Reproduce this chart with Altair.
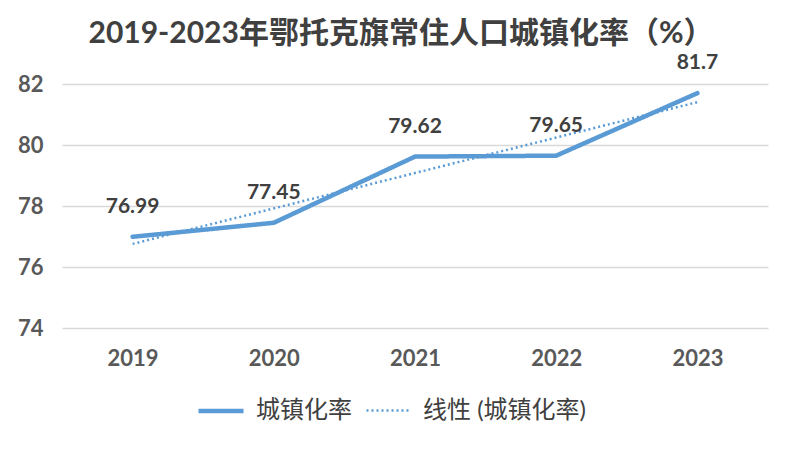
import altair as alt
import pandas as pd

years = [2019, 2020, 2021, 2022, 2023]
values = [76.99, 77.45, 79.62, 79.65, 81.7]
labels = ["76.99", "77.45", "79.62", "79.65", "81.7"]
series_names = ["城镇化率", "线性 (城镇化率)"]
y_ticks = [74, 76, 78, 80, 82]
title_text = "2019-2023年鄂托克旗常住人口城镇化率（%）"

df = pd.DataFrame({"year": years, "value": values, "label": labels})

BLUE = "#5B9BD5"
FONT = "Lato, Noto Sans CJK SC, sans-serif"

x_enc = alt.X("year:Q", scale=alt.Scale(domain=[2018.5, 2023.5], nice=False, zero=False),
              axis=alt.Axis(values=years, format="d", title=None, grid=False, domain=False,
                            ticks=False, labelPadding=20, labelFontSize=22,
                            labelFontWeight="bold", labelColor="#595959", labelFont=FONT))
y_enc = alt.Y("value:Q", scale=alt.Scale(domain=[74, 82], nice=False, zero=False),
              axis=alt.Axis(values=y_ticks, title=None, domain=False, ticks=False,
                            labelPadding=19, labelFontSize=22, labelFontWeight="bold",
                            labelColor="#595959", labelFont=FONT,
                            gridColor="#D9D9D9", gridWidth=1.5))

color_scale = alt.Scale(domain=series_names, range=[BLUE, BLUE])
dash_scale = alt.Scale(domain=series_names, range=[[1, 0], [2, 3]])
width_scale = alt.Scale(domain=series_names, range=[4.5, 2.5])
legend = alt.Legend(title=None, orient="none", legendX=134, legendY=302, direction="horizontal",
                    symbolType="stroke", symbolSize=2025, labelFontSize=24, labelFont=FONT,
                    labelColor="#404040", columnPadding=9, labelOffset=10, labelLimit=400,
                    symbolStrokeColor=BLUE)

base = alt.Chart(df)

line = base.transform_calculate(series="'城镇化率'").mark_line(strokeCap="round").encode(
    x=x_enc, y=y_enc,
    color=alt.Color("series:N", scale=color_scale, legend=legend),
    strokeDash=alt.StrokeDash("series:N", scale=dash_scale, legend=legend),
    strokeWidth=alt.StrokeWidth("series:N", scale=width_scale, legend=legend),
)

trend = base.transform_regression("year", "value", method="linear", extent=[2019, 2023]).transform_calculate(
    series="'线性 (城镇化率)'").mark_line().encode(
    x=x_enc, y=y_enc,
    color=alt.Color("series:N", scale=color_scale, legend=legend),
    strokeDash=alt.StrokeDash("series:N", scale=dash_scale, legend=legend),
    strokeWidth=alt.StrokeWidth("series:N", scale=width_scale, legend=legend),
)

text = base.mark_text(dy=-30, fontSize=21, fontWeight="bold", color="#404040", font=FONT).encode(
    x=alt.X("year:Q"), y=alt.Y("value:Q"), text="label:N")

chart = alt.layer(trend, line, text).properties(
    width=706, height=244,
    background="white",
    title=alt.TitleParams(title_text, fontSize=30, fontWeight="bold", font=FONT, color="#404040",
                          anchor="middle", frame="group", offset=3, dx=-14),
    autosize=alt.AutoSizeParams(type="none"),
    padding={"left": 54, "top": 76, "right": 18, "bottom": 116},
).configure_view(stroke=None)

chart.save("out.html", embed_options={"renderer": "svg", "actions": False})
